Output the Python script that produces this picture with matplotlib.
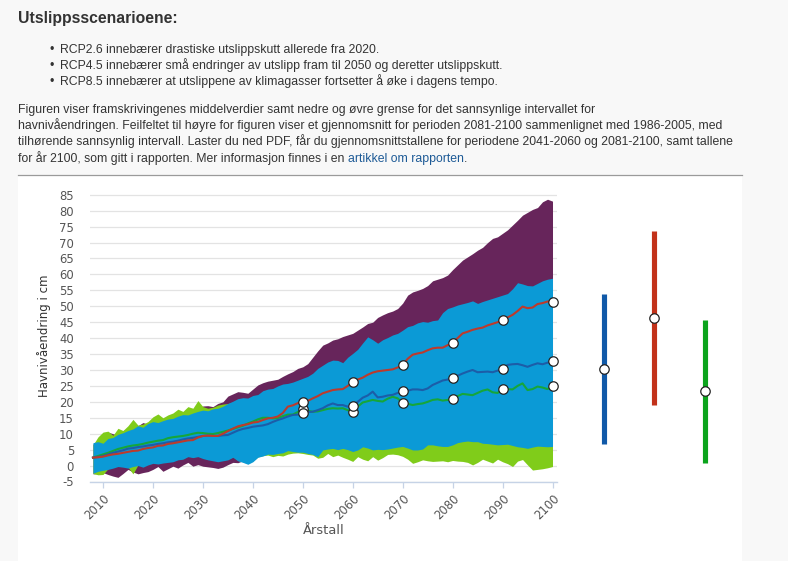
import matplotlib
matplotlib.use("Agg")
import matplotlib.pyplot as plt
from matplotlib.patches import Rectangle
from matplotlib.lines import Line2D

# ---------------- data ----------------
years = list(range(2008, 2101))

rcp85_upper = [6.8, 7.0,
    8.5, 10.5, 10.0, 9.5, 11.0, 11.5, 12.0, 12.5, 13.5, 13.0,
    13.5, 15.0, 14.0, 13.5, 15.5, 16.0, 16.5, 17.5, 17.0, 18.0,
    18.7, 18.8, 18.5, 19.5, 20.0, 21.8, 22.5, 23.2, 23.0, 22.7,
    24.0, 25.3, 26.0, 26.5, 26.8, 27.1, 28.0, 28.8, 29.5, 30.5,
    31.0, 32.0, 34.0, 36.0, 37.8, 38.5, 39.4, 39.8, 40.5, 41.0,
    41.5, 42.5, 43.5, 44.6, 45.0, 46.5, 47.3, 48.0, 48.5, 49.3,
    51.0, 53.5, 54.5, 55.0, 55.6, 56.5, 58.0, 58.5, 59.0, 59.8,
    61.5, 63.0, 64.5, 65.5, 66.5, 67.6, 68.5, 70.0, 71.3, 71.8,
    72.9, 74.0, 75.5, 77.0, 78.6, 79.5, 80.4, 81.0, 82.8, 83.6,
    83.0]
rcp85_lower = [-2.6, -2.5,
    -2.2, -2.8, -3.3, -3.7, -2.5, -1.2, -2.0, -2.6, -2.2, -1.9,
    -1.2, -0.3, -1.8, -1.0, -0.2, -0.8, 0.2, 1.0, -0.2, 0.3,
    -0.2, -0.4, -0.6, -0.9, -0.5, 0.3, 1.0, 0.9, 1.5, 2.0,
    2.6, 3.4, 4.1, 4.5, 5.1, 5.4, 6.0, 6.6, 7.0, 7.4,
    8.0, 8.4, 8.9, 9.3, 9.6, 10.2, 10.5, 11.0, 11.3, 11.9,
    12.2, 12.8, 13.1, 13.5, 14.0, 14.3, 14.9, 15.2, 15.8, 16.1,
    16.5, 17.0, 17.4, 17.9, 18.2, 18.8, 19.1, 19.5, 20.0, 20.4,
    20.9, 21.2, 21.8, 22.1, 22.5, 23.0, 23.4, 23.9, 24.2, 24.8,
    25.1, 25.5, 26.0, 26.4, 26.9, 27.2, 27.6, 28.1, 28.4, 28.9,
    29.2]
rcp45_upper = [7.2, 7.5,
    7.0, 8.5, 8.8, 9.8, 10.3, 11.0, 11.5, 12.5, 12.0, 13.2,
    13.8, 13.5, 14.1, 14.6, 14.8, 15.5, 16.0, 15.9, 16.5, 17.0,
    17.4, 17.2, 17.8, 18.0, 18.6, 19.5, 20.2, 21.0, 21.3, 21.2,
    22.0, 22.3, 23.5, 24.0, 24.2, 25.0, 25.6, 25.8, 26.2, 26.8,
    27.4, 28.0, 29.0, 30.5, 31.5, 32.5, 33.1, 33.0, 32.3, 34.0,
    35.2, 36.5, 38.5, 40.4, 39.5, 38.4, 39.5, 40.2, 41.0, 41.5,
    42.5, 43.6, 44.0, 44.8, 45.2, 45.0, 45.5, 45.7, 48.0, 49.3,
    49.8, 50.4, 50.8, 51.2, 51.7, 50.9, 51.5, 52.0, 52.5, 53.0,
    53.5, 54.0, 55.5, 57.4, 57.0, 56.5, 56.4, 57.2, 58.0, 58.5,
    58.8]
rcp45_lower = [-2.4, -1.8,
    -1.5, -1.2, -0.8, -0.3, -0.5, -0.8, -0.3, 0.0, -0.5, 0.2,
    0.7, 0.5, 0.8, 1.0, 1.2, 1.8, 2.0, 2.8, 2.5, 2.8,
    2.2, 1.8, 1.5, 1.2, 1.5, 1.8, 2.6, 1.5, 1.0, 0.4,
    1.2, 2.6, 3.0, 3.6, 3.5, 3.8, 4.0, 4.7, 4.4, 4.2,
    4.2, 3.8, 3.5, 2.8, 4.9, 5.2, 5.4, 5.0, 5.4, 5.0,
    4.4, 4.9, 5.9, 5.5, 4.9, 5.1, 5.0, 5.2, 5.5, 5.8,
    6.0, 5.5, 4.9, 4.9, 5.2, 6.5, 6.5, 6.2, 6.0, 6.0,
    6.5, 7.2, 7.5, 7.7, 7.5, 7.5, 7.0, 6.9, 6.7, 6.5,
    6.6, 6.7, 6.3, 5.9, 5.7, 5.4, 5.8, 6.1, 6.0, 5.9,
    6.0]
rcp26_upper = [6.5, 9.0,
    10.5, 10.8, 9.5, 11.7, 11.0, 12.5, 14.5, 12.7, 13.0, 13.8,
    15.3, 16.2, 15.0, 15.9, 16.5, 17.7, 17.0, 18.5, 18.0, 20.4,
    18.5, 18.0, 18.3, 19.0, 19.3, 19.5, 19.8, 20.3, 20.8, 21.0,
    21.5, 22.0, 22.4, 22.7, 23.0, 23.6, 23.9, 24.3, 24.9, 25.2,
    25.4, 26.0, 26.5, 26.8, 27.0, 27.6, 27.9, 28.1, 28.6, 29.1,
    29.4, 29.7, 30.2, 30.5, 30.7, 31.2, 31.7, 31.9, 32.2, 32.6,
    33.1, 33.4, 33.6, 34.1, 34.5, 34.8, 35.0, 35.5, 35.9, 36.2,
    36.4, 36.9, 37.3, 37.6, 37.8, 38.3, 38.7, 39.0, 39.2, 39.7,
    40.1, 40.4, 40.6, 41.1, 41.5, 41.8, 42.0, 42.5, 42.9, 43.2,
    43.4]
rcp26_lower = [-2.5, -2.9,
    -2.8, -1.0, -0.5, 0.0, 0.0, -0.5, -2.6, 0.2, 0.0, 0.5,
    1.0, 0.8, 1.0, 1.3, 1.5, 2.0, 2.2, 3.0, 2.7, 3.0,
    2.5, 2.0, 1.8, 1.5, 1.7, 2.0, 2.8, 1.6, 1.2, 0.6,
    1.4, 2.7, 3.1, 3.3, 2.8, 3.2, 3.0, 3.6, 3.9, 4.0,
    3.8, 3.5, 3.3, 2.3, 2.6, 3.8, 2.8, 3.3, 2.6, 2.0,
    1.3, 2.8, 2.0, 1.5, 2.8, 1.7, 2.5, 3.5, 3.6, 3.4,
    2.9, 2.0, 0.7, 1.2, 1.8, 1.5, 1.3, 1.4, 1.5, 1.2,
    1.6, 1.4, 1.3, 1.0, 0.2, 1.0, 2.0, 1.4, 0.8, 2.0,
    1.2, 0.6, -0.3, 1.4, 1.9, 0.2, -1.4, -1.2, -1.0, -0.7,
    -0.3]

rcp85_mean = [2.5, 2.6,
    2.8, 3.2, 3.5, 3.7, 4.0, 4.3, 4.6, 4.7, 5.2, 5.5,
    5.7, 6.2, 6.3, 6.8, 7.0, 7.3, 7.6, 7.9, 8.0, 8.8,
    9.3, 9.4, 9.3, 9.3, 10.0, 10.8, 11.6, 12.3, 12.7, 13.0,
    13.5, 13.7, 14.3, 14.8, 15.0, 15.4, 16.5, 18.5, 18.9, 19.6,
    20.0, 20.3, 21.1, 21.8, 22.7, 23.2, 23.7, 23.9, 24.0, 25.0,
    26.1, 27.0, 27.6, 28.5, 29.2, 29.6, 29.8, 30.0, 30.2, 30.8,
    31.6, 33.5, 34.8, 35.2, 35.5, 36.2, 36.8, 37.0, 37.0, 37.8,
    38.6, 40.0, 41.5, 42.0, 42.6, 43.0, 43.3, 44.0, 44.5, 45.0,
    45.6, 46.5, 47.3, 48.5, 49.9, 49.4, 49.6, 50.7, 51.0, 51.5,
    51.4]
rcp45_mean = [2.5, 2.7,
    3.0, 3.5, 4.0, 4.4, 4.8, 5.3, 5.5, 5.8, 6.0, 6.3,
    6.5, 6.8, 7.0, 7.3, 7.5, 7.8, 8.2, 8.5, 8.7, 9.0,
    9.3, 9.4, 9.3, 9.3, 9.5, 9.6, 10.3, 11.0, 11.5, 11.8,
    12.2, 12.4, 12.6, 13.0, 13.7, 14.3, 14.8, 15.4, 15.9, 16.0,
    16.6, 16.8, 16.9, 17.4, 18.0, 18.9, 19.5, 19.0, 19.0, 18.5,
    18.7, 20.0, 21.3, 22.0, 23.2, 21.4, 21.6, 22.0, 22.2, 22.8,
    23.3, 23.5, 23.9, 23.9, 23.7, 24.2, 25.3, 26.0, 26.7, 27.0,
    27.6, 28.2, 28.9, 29.5, 30.0, 29.3, 29.4, 29.5, 29.3, 29.8,
    30.3, 31.6, 31.8, 31.9, 31.5, 31.0, 31.6, 32.1, 31.8, 32.3,
    32.7]
rcp26_mean = [2.5, 3.0,
    3.5, 4.0, 4.6, 5.2, 5.6, 6.0, 6.3, 6.5, 6.8, 7.2,
    7.5, 7.8, 8.0, 8.6, 8.9, 9.1, 9.3, 9.6, 10.0, 10.3,
    10.2, 10.0, 9.9, 10.2, 10.6, 11.0, 11.5, 12.0, 12.5, 13.2,
    13.8, 14.5, 15.0, 15.0, 14.8, 14.9, 15.5, 16.0, 16.0, 16.8,
    17.7, 17.2, 16.9, 17.0, 17.4, 17.8, 18.0, 17.9, 18.0, 17.4,
    16.9, 18.5, 19.8, 20.2, 20.6, 20.3, 20.1, 21.0, 21.6, 21.1,
    19.6, 19.4, 19.0, 19.3, 19.5, 20.0, 20.6, 20.8, 20.4, 20.6,
    21.0, 21.8, 22.5, 22.3, 22.1, 22.8, 23.5, 23.9, 23.0, 22.8,
    23.9, 24.0, 23.9, 25.0, 25.8, 23.7, 24.0, 24.8, 24.5, 24.0,
    25.1]

marker_years = [2050, 2060, 2070, 2080, 2090, 2100]

# error bars: average 2081-2100 (order as drawn: RCP4.5, RCP8.5, RCP2.6)
bar_scenarios = ["RCP4.5", "RCP8.5", "RCP2.6"]
bar_low = [6.8, 18.9, 0.7]
bar_mid = [30.4, 46.2, 23.4]
bar_high = [53.7, 73.7, 45.8]

x_ticks = [2010, 2020, 2030, 2040, 2050, 2060, 2070, 2080, 2090, 2100]
y_ticks = [-5, 0, 5, 10, 15, 20, 25, 30, 35, 40, 45, 50, 55, 60, 65, 70, 75, 80, 85]

title = "Utslippsscenarioene:"
bullets = [
    "RCP2.6 innebærer drastiske utslippskutt allerede fra 2020.",
    "RCP4.5 innebærer små endringer av utslipp fram til 2050 og deretter utslippskutt.",
    "RCP8.5 innebærer at utslippene av klimagasser fortsetter å øke i dagens tempo.",
]
paragraph = [
    "Figuren viser framskrivingenes middelverdier samt nedre og øvre grense for det sannsynlige intervallet for",
    "havnivåendringen. Feilfeltet til høyre for figuren viser et gjennomsnitt for perioden 2081-2100 sammenlignet med 1986-2005, med",
    "tilhørende sannsynlig intervall. Laster du ned PDF, får du gjennomsnittstallene for periodene 2041-2060 og 2081-2100, samt tallene",
    "for år 2100, som gitt i rapporten. Mer informasjon finnes i en ",
]
link_text = "artikkel om rapporten"

# ---------------- styling ----------------
W, H = 788, 561
C_PURPLE = "#67255b"
C_BLUEBAND = "#0b9ad6"
C_GREENBAND = "#80cc1a"
C_RED = "#bd3a2c"
C_BLUE = "#1c5da8"
C_GREEN = "#16a63a"
BAR_COLORS = ["#1059a8", "#c2321a", "#0ba41c"]
TXT = "#333333"
FS = 8.8

fig = plt.figure(figsize=(W / 100, H / 100), dpi=100, facecolor="#f8f8f8")

def fx(x):
    return x / W

def fy(y):
    return 1 - y / H

# white panel + separator (behind everything)
panel = Rectangle((fx(18), 0), fx(742) - fx(18), fy(176), transform=fig.transFigure,
                  facecolor="white", edgecolor="none", zorder=-10)
fig.add_artist(panel)
fig.add_artist(Line2D([fx(18), fx(742)], [fy(175.5), fy(175.5)], transform=fig.transFigure,
                      color="#9a9a9a", lw=0.9, zorder=-5))

# header text
body_font = ["Liberation Sans", "DejaVu Sans"]
fig.text(fx(18), fy(23), title, fontsize=11.3, fontweight="bold", color=TXT, family=body_font,
         va="baseline", ha="left")
for i, b in enumerate(bullets):
    yb = [52.5, 69, 85.5][i]
    fig.text(fx(50), fy(yb), "\u2022", fontsize=FS, color=TXT, family=body_font, va="baseline")
    fig.text(fx(60), fy(yb), b, fontsize=FS, color=TXT, family=body_font, va="baseline")
para_y = [112.5, 129, 145.5, 162]
last = None
for i, p in enumerate(paragraph):
    last = fig.text(fx(18), fy(para_y[i]), p, fontsize=FS, color=TXT, family=body_font, va="baseline")

# ---------------- main chart ----------------
ax_left, ax_right, ax_top, ax_bottom = 90, 557, 190, 481.5
ax = fig.add_axes([fx(ax_left), fy(ax_bottom), fx(ax_right) - fx(ax_left), fy(ax_top) - fy(ax_bottom)])
ax.set_facecolor("none")
ax.set_xlim(2007.4, 2100.9)
ax.set_ylim(-5, 86.5)

ax.fill_between(years, rcp85_lower, rcp85_upper, color=C_PURPLE, lw=0, zorder=2)
ax.fill_between(years, rcp26_lower, rcp26_upper, color=C_GREENBAND, lw=0, zorder=3)
ax.fill_between(years, rcp45_lower, rcp45_upper, color=C_BLUEBAND, lw=0, zorder=4)

for vals, col, z in [(rcp26_mean, C_GREEN, 5), (rcp45_mean, C_BLUE, 6), (rcp85_mean, C_RED, 7)]:
    ax.plot(years, vals, color=col, lw=1.5, zorder=z)
for vals, z in [(rcp26_mean, 8), (rcp45_mean, 9), (rcp85_mean, 10)]:
    my = [vals[years.index(y)] for y in marker_years]
    ax.plot(marker_years, my, ls="none", marker="o", ms=6.8, mfc="white", mec="#222222",
            mew=0.9, zorder=z, clip_on=False)

ax.set_xticks(x_ticks)
ax.set_xticklabels([str(v) for v in x_ticks], rotation=45, ha="right", va="top",
                   rotation_mode="anchor")
ax.set_yticks(y_ticks)
ax.set_yticklabels([str(v) for v in y_ticks])
for s in ["left", "right", "top"]:
    ax.spines[s].set_visible(False)
ax.spines["bottom"].set_color("#c6d3e6")
ax.spines["bottom"].set_linewidth(1.0)
ax.grid(axis="y", color="#e3e3e3", lw=0.9)
ax.set_axisbelow(True)
ax.tick_params(axis="x", colors="#c6d3e6", length=4.5, width=0.9, direction="out", pad=3,
               labelcolor="#555555", labelsize=8.4)
ax.tick_params(axis="y", length=0, pad=11.5, labelcolor="#555555", labelsize=8.4)
for lab in ax.get_xticklabels() + ax.get_yticklabels():
    lab.set_family(["DejaVu Sans"])

ax.set_xlabel("Årstall", fontsize=9.4, color="#555555")
ax.xaxis.set_label_coords(0.5, (ax_bottom - 531) / (ax_bottom - ax_top))
ax.xaxis.label.set_va("center")
ax.set_ylabel("Havnivåendring i cm", fontsize=8.5, color="#333333")
ax.yaxis.set_label_coords((44 - ax_left) / (ax_right - ax_left), 0.5)
ax.yaxis.label.set_va("center")

# ---------------- error bars (2081-2100 mean) ----------------
eb_left, eb_right = 570, 740
ax2 = fig.add_axes([fx(eb_left), fy(ax_bottom), fx(eb_right) - fx(eb_left), fy(ax_top) - fy(ax_bottom)])
ax2.set_ylim(-5, 86.5)
ax2.set_xlim(-0.673, 2.693)
ax2.axis("off")
pos = list(range(len(bar_scenarios)))
ax2.vlines(pos, bar_low, bar_high, colors=BAR_COLORS, lw=3.7)
ax2.plot(pos, bar_mid, ls="none", marker="o", ms=6.8, mfc="white", mec="#222222", mew=0.9)

# link text inline after last paragraph line
fig.canvas.draw()
r = fig.canvas.get_renderer()
bb = last.get_window_extent(r)
base_y = fy(para_y[3])
lt = fig.text(bb.x1 / W, base_y, link_text, fontsize=FS, color="#1d5a96", family=body_font,
              va="baseline")
fig.canvas.draw()
bb2 = lt.get_window_extent(r)
fig.text(bb2.x1 / W, base_y, ".", fontsize=FS, color=TXT, family=body_font, va="baseline")

fig.savefig("out.png", dpi=100, facecolor=fig.get_facecolor())
